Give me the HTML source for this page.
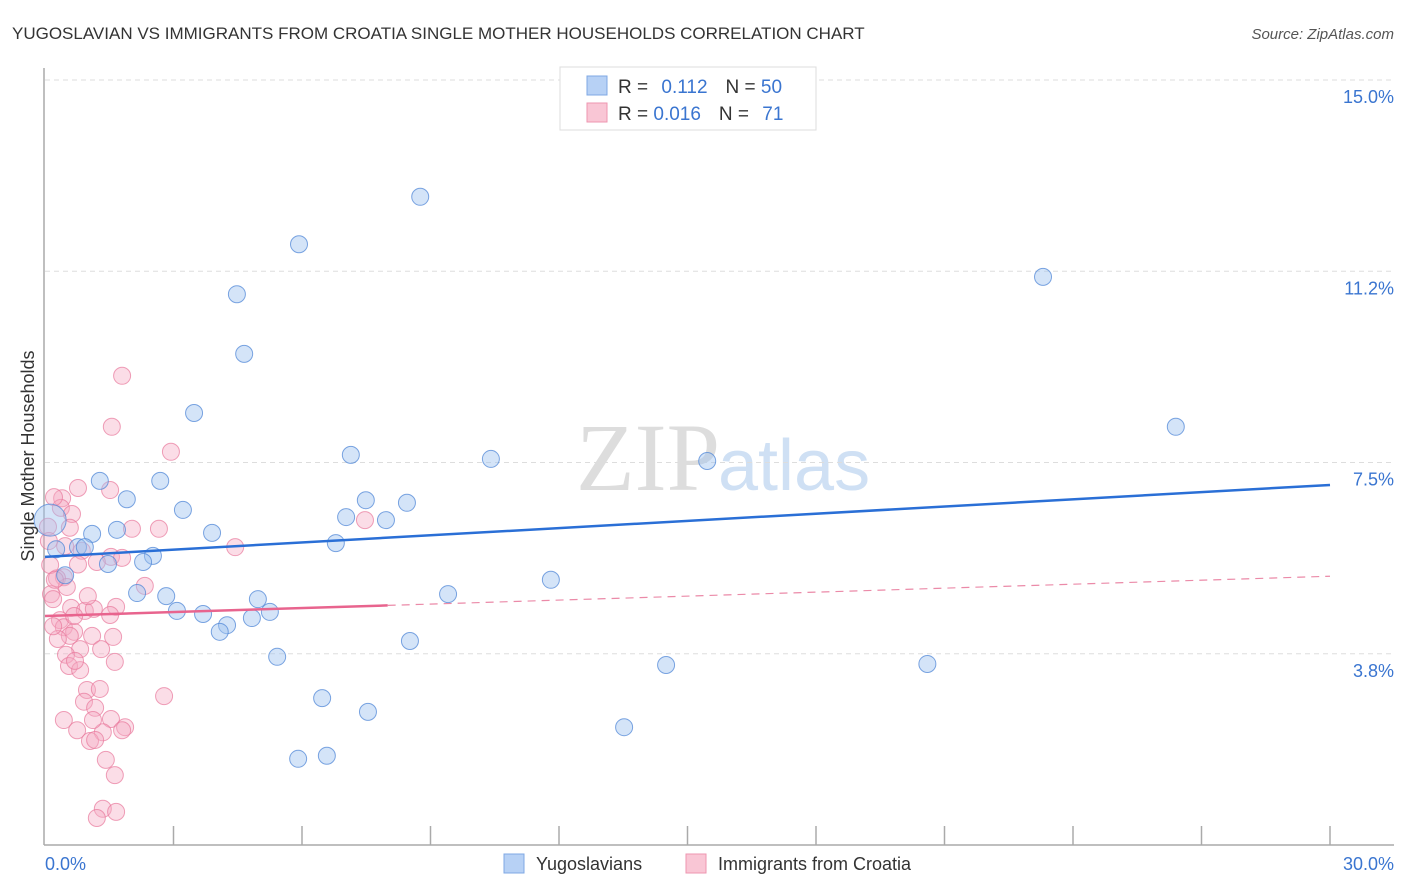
<!DOCTYPE html>
<html><head><meta charset="utf-8"><style>
body{margin:0;background:#fff;font-family:"Liberation Sans",sans-serif;}
svg{display:block}
</style></head><body>
<svg id="chart" width="1406" height="892" xmlns="http://www.w3.org/2000/svg">
<text x="12" y="39" font-size="17" fill="#333">YUGOSLAVIAN VS IMMIGRANTS FROM CROATIA SINGLE MOTHER HOUSEHOLDS CORRELATION CHART</text>
<text x="1394" y="39" font-size="15" fill="#555" font-style="italic" text-anchor="end">Source: ZipAtlas.com</text>
<text x="720" y="490" font-size="96" fill="#ddd" text-anchor="end" font-family="Liberation Serif">ZIP</text>
<text x="718" y="490" font-size="72" fill="#cfe0f4">atlas</text>
<g id="grid"></g>
<g id="axes"></g>
<g id="points"></g>
<g id="trends"></g>
<text transform="translate(34,456) rotate(-90)" font-size="18" fill="#333" text-anchor="middle">Single Mother Households</text>
<text x="45" y="870" font-size="18" fill="#3a75d0">0.0%</text>
<text x="1394" y="870" font-size="18" fill="#3a75d0" text-anchor="end">30.0%</text>
<g>
<rect x="560" y="67" width="256" height="63" fill="#fff" stroke="#ddd"/>
<rect x="587" y="76" width="20" height="19" fill="#b7d1f5" stroke="#7fa8e4"/>
<rect x="587" y="103" width="20" height="19" fill="#f9c6d5" stroke="#ee96b0"/>
<text x="618" y="93" font-size="19" fill="#333">R = <tspan fill="#3a75d0" dx="8">0.112</tspan><tspan dx="18">N = </tspan><tspan fill="#3a75d0">50</tspan></text>
<text x="618" y="120" font-size="19" fill="#333">R = <tspan fill="#3a75d0">0.016</tspan><tspan dx="18">N = </tspan><tspan fill="#3a75d0" dx="8">71</tspan></text>
</g>
<g>
<rect x="504" y="854" width="20" height="19" fill="#b7d1f5" stroke="#7fa8e4"/>
<text x="536" y="870" font-size="18" fill="#333">Yugoslavians</text>
<rect x="686" y="854" width="20" height="19" fill="#f9c6d5" stroke="#ee96b0"/>
<text x="718" y="870" font-size="18" fill="#333">Immigrants from Croatia</text>
</g>
</svg>
<script>
const yTicks=[15.0,11.25,7.5,3.75];
const yTickLabels=["15.0%","11.2%","7.5%","3.8%"];
const xTicks=[0,3,6,9,12,15,18,21,24,27,30];
const blueX=[8.76,5.93,4.48,4.65,23.3,3.48,26.4,7.14,10.41,15.46,2.69,1.28,7.49,8.45,3.22,7.03,7.96,1.91,1.68,3.9,1.1,6.79,0.77,0.93,2.52,2.29,1.47,0.47,11.81,2.15,2.83,9.41,4.97,3.08,3.69,5.25,4.83,4.25,4.08,8.52,5.42,14.5,20.6,6.47,7.54,13.52,6.58,5.91,0.12,0.26];
const blueY=[12.71,11.78,10.8,9.63,11.14,8.47,8.2,7.65,7.57,7.53,7.14,7.14,6.76,6.71,6.57,6.43,6.37,6.78,6.18,6.12,6.1,5.92,5.84,5.84,5.67,5.55,5.51,5.29,5.2,4.94,4.88,4.92,4.82,4.59,4.53,4.57,4.45,4.31,4.18,4.0,3.69,3.53,3.55,2.88,2.61,2.31,1.75,1.69,6.37,5.8];
const pinkX=[0.77,0.4,0.37,0.63,0.58,0.07,0.47,0.09,2.03,1.54,1.8,0.86,0.77,0.44,0.28,0.51,0.14,0.19,2.33,0.61,0.93,1.14,1.66,1.52,0.35,0.44,0.68,0.58,1.1,1.59,1.31,0.82,0.49,0.56,0.82,0.98,1.28,2.78,0.91,1.17,1.54,0.44,0.75,1.35,1.87,1.05,1.17,1.42,1.63,1.35,1.66,1.21,1.8,1.56,2.94,1.52,2.66,4.44,7.47,0.21,0.12,0.23,0.3,0.7,1.0,1.21,1.63,1.12,1.8,0.68,0.19];
const pinkY=[7.0,6.8,6.61,6.49,6.22,6.24,5.86,5.96,6.2,5.65,5.63,5.77,5.5,5.25,5.23,5.06,4.92,4.82,5.08,4.65,4.59,4.63,4.67,4.51,4.41,4.27,4.18,4.1,4.1,4.08,3.84,3.84,3.73,3.51,3.43,3.04,3.06,2.92,2.81,2.69,2.47,2.45,2.25,2.21,2.31,2.04,2.06,1.67,1.37,0.71,0.65,0.53,9.2,8.2,7.71,6.96,6.2,5.84,6.37,6.82,5.49,5.2,4.04,3.61,4.88,5.55,3.59,2.45,2.25,4.49,4.29];
const blueTrend=[5.65,7.06];
const pinkTrend=[4.49,5.27];
const pinkSolidEnd=8.0;
const X0=45,X1=1330,Y0=845,PXY=51.0;
const sx=v=>X0+(v/30)*(X1-X0);
const sy=v=>Y0-v*PXY;
const NS="http://www.w3.org/2000/svg";
function mk(tag,attrs,parent){const e=document.createElementNS(NS,tag);for(const k in attrs)e.setAttribute(k,attrs[k]);parent.appendChild(e);return e;}
const grid=document.getElementById('grid'),axes=document.getElementById('axes'),pts=document.getElementById('points'),tr=document.getElementById('trends');
yTicks.forEach((t,i)=>{
 const l=mk('line',{x1:X0,x2:1394,y1:sy(t),y2:sy(t),stroke:'#ddd','stroke-dasharray':'5,4'},grid);
 
 
 const tx=mk('text',{x:1394,y:sy(t)+23,'font-size':18,fill:'#3a75d0','text-anchor':'end'},grid);
 tx.textContent=yTickLabels[i];
 
 
});
const ya=mk('line',{x1:X0-1,x2:X0-1,y1:68,y2:Y0,stroke:'#aaa','stroke-width':1.5},axes);


const xa=mk('line',{x1:X0-1,x2:1394,y1:Y0,y2:Y0,stroke:'#aaa','stroke-width':1.5},axes);


xTicks.slice(1).forEach(t=>{
 const l=mk('line',{x1:sx(t),x2:sx(t),y1:Y0,y2:Y0-19,stroke:'#aaa','stroke-width':1.5},axes);
 
 
});
pinkX.forEach((v,i)=>{
 const c=mk('circle',{cx:sx(v),cy:sy(pinkY[i]),r:8.5,fill:'rgba(246,170,195,0.4)',stroke:'rgba(232,120,155,0.7)','stroke-width':1},pts);
 
 
});
blueX.forEach((v,i)=>{
 const c=mk('circle',{cx:sx(v),cy:sy(blueY[i]),r:i==48?16:8.5,fill:'rgba(160,195,240,0.45)',stroke:'rgba(80,135,215,0.75)','stroke-width':1},pts);
 
 
});
const bl=mk('line',{x1:sx(0),y1:sy(blueTrend[0]),x2:sx(30),y2:sy(blueTrend[1]),stroke:'#2a6fd6','stroke-width':2.5},tr);


const pAt=x=>pinkTrend[0]+(pinkTrend[1]-pinkTrend[0])*x/30;
const ps=mk('line',{x1:sx(0),y1:sy(pinkTrend[0]),x2:sx(pinkSolidEnd),y2:sy(pAt(pinkSolidEnd)),stroke:'#e8648e','stroke-width':2.5},tr);


const pd=mk('line',{x1:sx(pinkSolidEnd),y1:sy(pAt(pinkSolidEnd)),x2:sx(30),y2:sy(pinkTrend[1]),stroke:'#eb8aa8','stroke-width':1.2,'stroke-dasharray':'8,6'},tr);


</script>
</body></html>
